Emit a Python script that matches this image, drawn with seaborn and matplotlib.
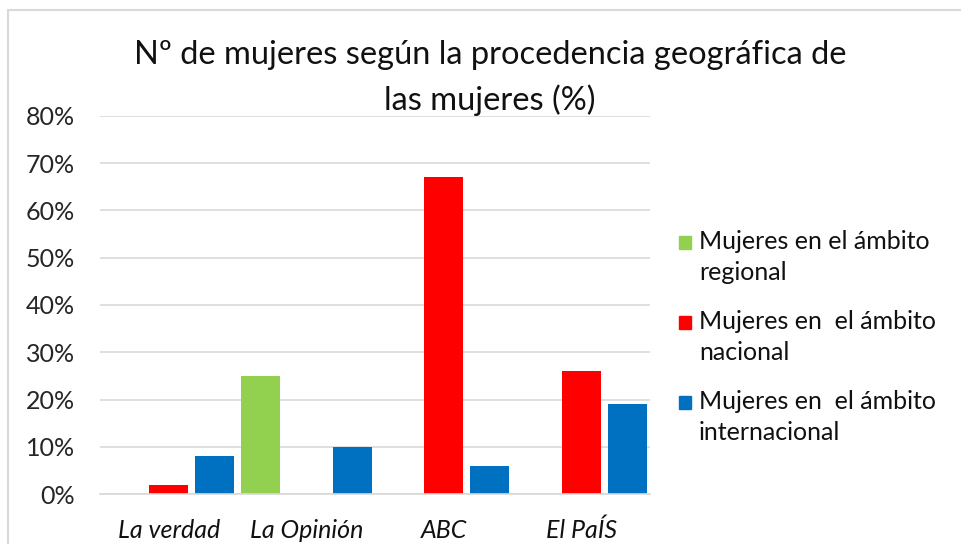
import numpy as np
import pandas as pd
import matplotlib
matplotlib.use("Agg")
import matplotlib.pyplot as plt
from matplotlib.lines import Line2D
from matplotlib.patches import Rectangle
from matplotlib.legend_handler import HandlerPatch
from matplotlib.ticker import PercentFormatter, FixedLocator
import seaborn as sns

# data
periodicos = ["La verdad", "La Opinión", "ABC", "El PaÍS"]
series = ["Mujeres en el ámbito\nregional",
          "Mujeres en  el ámbito\nnacional",
          "Mujeres en  el ámbito\ninternacional"]
regional = [0, 25, 0, 0]
nacional = [2, 0, 67, 26]
internacional = [8, 10, 6, 19]
colores = ["#92D050", "#FF0000", "#0070C0"]

df = pd.DataFrame({
    "periodico": periodicos * 3,
    "serie": [series[0]] * 4 + [series[1]] * 4 + [series[2]] * 4,
    "valor": regional + nacional + internacional,
})

sns.set_style("white")
plt.rcParams["font.family"] = ["Lato", "DejaVu Sans"]

fig = plt.figure(figsize=(9.62, 5.44), dpi=100)
ax = fig.add_axes([100 / 962, 1 - 494 / 544, 550 / 962, 378 / 544])

sns.barplot(data=df, x="periodico", y="valor", hue="serie", order=periodicos,
            hue_order=series, palette=colores, width=1.0, gap=0.15,
            linewidth=0, saturation=1, ax=ax)

ax.set_xlim(-0.5, 3.5)
ax.set_ylim(0, 80)
ax.set_yticks(np.arange(0, 81, 10))
ax.yaxis.set_major_formatter(PercentFormatter(decimals=0))
ax.yaxis.grid(True, color="#d9d9d9", linewidth=1.2)
ax.set_axisbelow(True)
ax.tick_params(axis="y", length=0, pad=18, labelsize=18, labelcolor="#262626")
ax.tick_params(axis="x", which="major", length=0, pad=18, labelsize=18, labelcolor="#111111")
ax.xaxis.set_minor_locator(FixedLocator([-0.5, 0.5, 1.5, 2.5, 3.5]))
ax.tick_params(axis="x", which="minor", length=7, width=1.2, color="#d9d9d9")
for lab in ax.get_xticklabels():
    lab.set_fontstyle("italic")
ax.set_xlabel("")
ax.set_ylabel("")
for s in ["top", "right", "left"]:
    ax.spines[s].set_visible(False)
ax.spines["bottom"].set_color("#d9d9d9")
ax.spines["bottom"].set_linewidth(1.2)

fig.text(490 / 962, 1 - 78 / 544,
         "Nº de mujeres según la procedencia geográfica de\nlas mujeres (%)",
         ha="center", va="center", fontsize=23.5, linespacing=1.55, color="#111111")


# legend square sits next to the first line of each two-line label
def top_square(legend, orig_handle, xdescent, ydescent, width, height, fontsize):
    size = width
    return Rectangle((-xdescent, -ydescent + height - size - 0.06 * fontsize), size, size)


ax.legend_.remove()
handles = [Rectangle((0, 0), 1, 1, color=c) for c in colores]
leg = fig.legend(handles, series, loc="center left",
                 bbox_to_anchor=(679 / 962, 1 - 337 / 544), frameon=False,
                 fontsize=18, handlelength=0.5, handleheight=2.6,
                 handletextpad=0.3, labelspacing=1.05, borderpad=0, borderaxespad=0,
                 labelcolor="#111111",
                 handler_map={Rectangle: HandlerPatch(patch_func=top_square)})
for t in leg.get_texts():
    t.set_linespacing(1.4)

# chart border (only top and left visible in the crop)
fig.add_artist(Line2D([8 / 962, 1], [1 - 10 / 544] * 2, transform=fig.transFigure,
                      color="#d9d9d9", linewidth=1.5))
fig.add_artist(Line2D([8 / 962] * 2, [0, 1 - 10 / 544], transform=fig.transFigure,
                      color="#d9d9d9", linewidth=1.5))

fig.savefig("out.png", dpi=100)
